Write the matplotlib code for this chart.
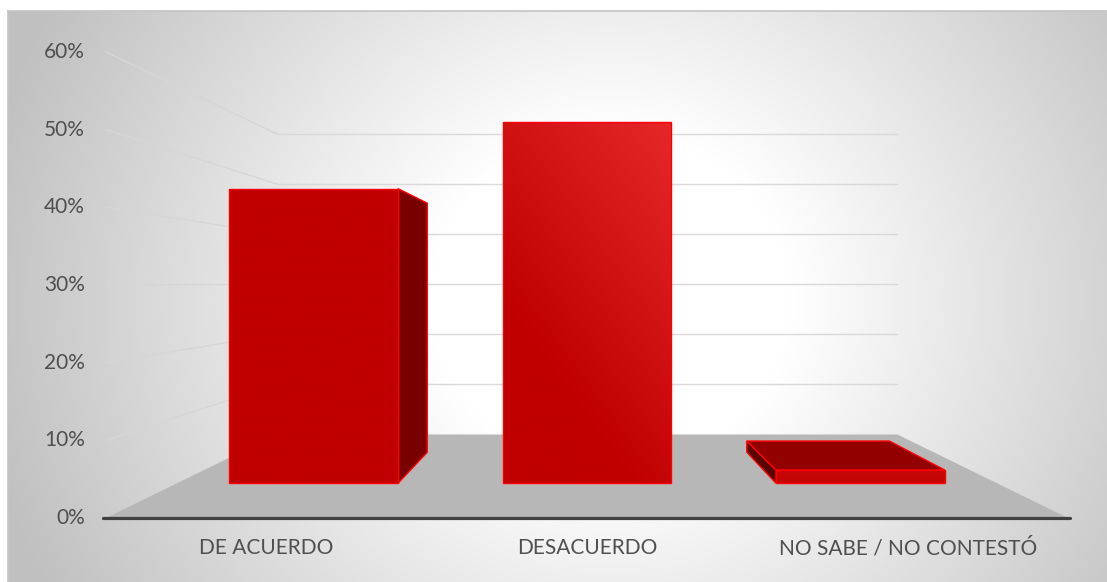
import numpy as np
import matplotlib.pyplot as plt
from matplotlib.patches import Polygon

categorias = ["DE ACUERDO", "DESACUERDO", "NO SABE / NO CONTESTÓ"]
porcentajes = [0.445, 0.545, 0.02]
ticks = [0.0, 0.1, 0.2, 0.3, 0.4, 0.5, 0.6]
tick_labels = ["0%", "10%", "20%", "30%", "40%", "50%", "60%"]

W, H = 1107, 582

# punto de fuga (en coordenadas de categoria / valor) y reduccion con la profundidad
VPX, VPY, K = 1.0, 0.303, 0.55
ANCHO, D0, D1 = 0.617, 0.315, 0.705

ROJO_BORDE = "#ff0000"
TEXTO = "#4f4f4f"


def proy(x, d, v):
    s = 1.0 / (1.0 + K * d)
    return VPX + (x - VPX) * s, VPY + (v - VPY) * s


fig = plt.figure(figsize=(W / 100, H / 100), dpi=100)

# fondo con degradado radial
bg = fig.add_axes([0, 0, 1, 1])
bg.set_axis_off()
yy, xx = np.mgrid[0:H, 0:W]
r = np.hypot((xx - 610) / 600, (yy - 300) / 560)
g = np.clip(255 - 57 * np.clip((r - 0.3) / 0.7, 0, None), 192, 255) / 255
img = np.dstack([g, g, g])
img[:11, :] = 1
img[:, :8] = 1
bg.imshow(img, extent=(0, W, H, 0), aspect="auto", interpolation="bilinear")
bg.plot([8, W], [11, 11], color="#c4c4c4", lw=1.2)
bg.plot([8, 8], [11, H], color="#c4c4c4", lw=1.2)
bg.set_xlim(0, W)
bg.set_ylim(H, 0)

ax = fig.add_axes([0, 0, 1, 1])
ax.patch.set_visible(False)
ax.set_axis_off()
ax.set_xlim(-0.8306, 2.6215)
ax.set_ylim(-0.0824, 0.6669)

# lineas de division: pared lateral y pared del fondo
for v in ticks[1:]:
    a = proy(-0.5, 0, v)
    b = proy(-0.5, 1, v)
    c = proy(2.5, 1, v)
    ax.plot([a[0], b[0]], [a[1], b[1]], color="#d6d6d6", lw=1.0, zorder=1)
    ax.plot([b[0], c[0]], [b[1], c[1]], color="#d9d9d9", lw=1.0, zorder=1)

# piso
piso = [proy(-0.5, 0, 0), proy(2.5, 0, 0), proy(2.5, 1, 0), proy(-0.5, 1, 0)]
ax.add_patch(Polygon(piso, closed=True, facecolor="#b7b7b7", edgecolor="none", zorder=2))

# eje horizontal
ax.plot([-0.51, 2.505], [0, 0], color="#404040", lw=2.3, solid_capstyle="round", zorder=3)


def cara_degradada(pts):
    pts = np.array(pts)
    x0, x1 = pts[:, 0].min(), pts[:, 0].max()
    y0, y1 = pts[:, 1].min(), pts[:, 1].max()
    gx, gy = np.meshgrid(np.linspace(x0, x1, 120), np.linspace(y0, y1, 240))
    # aclara hacia arriba y a la derecha
    t = np.clip(1 + 1.86 * (gy - 0.51) + 1.06 * (np.minimum(gx, 1.26) - 1.26), 0, 1)
    base = np.array([0xc0, 0x00, 0x00]) / 255
    claro = np.array([0xe6, 0x28, 0x28]) / 255
    col = base + t[..., None] * (claro - base)
    im = ax.imshow(col, extent=(x0, x1, y0, y1), origin="lower", aspect="auto",
                   interpolation="bilinear", zorder=5)
    poly = Polygon(pts, closed=True, facecolor="none", edgecolor=ROJO_BORDE, lw=1.0, zorder=6)
    ax.add_patch(poly)
    im.set_clip_path(poly)


for i, v in enumerate(porcentajes):
    x0, x1 = i - ANCHO / 2, i + ANCHO / 2
    if x1 < VPX:
        lado = [proy(x1, D0, 0), proy(x1, D1, 0), proy(x1, D1, v), proy(x1, D0, v)]
        ax.add_patch(Polygon(lado, closed=True, facecolor="#7a0000",
                             edgecolor=ROJO_BORDE, lw=1.0, zorder=4))
    if x0 > VPX:
        lado = [proy(x0, D0, 0), proy(x0, D1, 0), proy(x0, D1, v), proy(x0, D0, v)]
        ax.add_patch(Polygon(lado, closed=True, facecolor="#5a0000",
                             edgecolor=ROJO_BORDE, lw=1.0, zorder=4))
    if v < VPY:
        techo = [proy(x0, D0, v), proy(x1, D0, v), proy(x1, D1, v), proy(x0, D1, v)]
        ax.add_patch(Polygon(techo, closed=True, facecolor="#920000",
                             edgecolor=ROJO_BORDE, lw=1.0, zorder=4))
    frente = [proy(x0, D0, 0), proy(x1, D0, 0), proy(x1, D0, v), proy(x0, D0, v)]
    cara_degradada(frente)

# etiquetas
for v, lab in zip(ticks, tick_labels):
    ax.text(-0.5655, v, lab, ha="right", va="center", fontsize=15,
            family="Lato", color=TEXTO)

for i, cat in enumerate(categorias):
    ax.text(i, -0.0386, cat, ha="center", va="center", fontsize=15,
            family="Lato", color=TEXTO)

fig.savefig("out.png", dpi=100)
